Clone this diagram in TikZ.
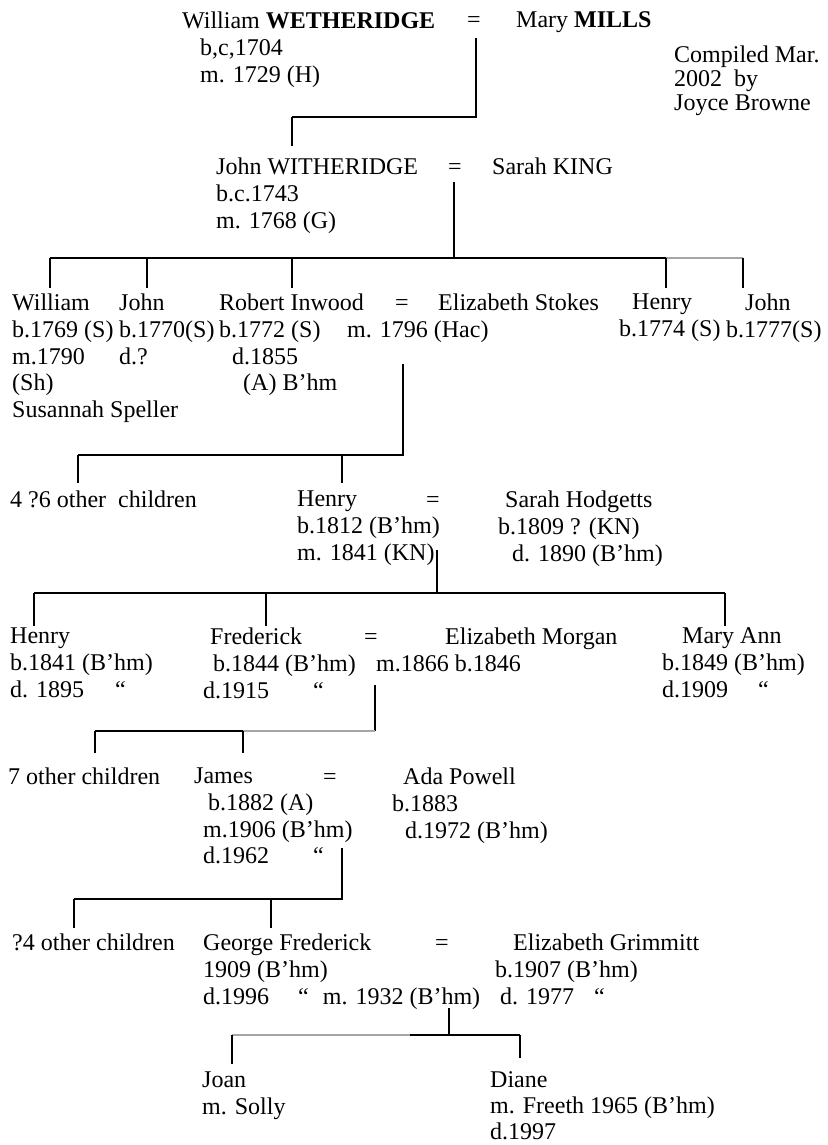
\documentclass[tikz,border=0pt]{standalone}
\usepackage{fontspec}
\setmainfont{Liberation Serif}

\tikzset{
        person/.style={anchor=north west, inner sep=0pt, align=left, yshift=16.4pt},
        wed/.style={anchor=base, inner sep=0pt},
        famline/.style={line width=1.4pt},
        faint/.style={draw=black!35}
}

\begin{document}
\begin{tikzpicture}[x=1pt, y=-1pt, font=\fontsize{24}{26.8}\selectfont]
        \useasboundingbox (0,0) rectangle (827,1145);

        % William and Mary
        \node [person] (will) at (182,28) {William \textbf{WETHERIDGE}};
        \node [person] (willinfo) at (200,54.8) {b,c,1704\\m. 1729 (H)};
        \node [wed] (eqa) at (474,28) {=};
        \node [person] (mary) at (516,28) {Mary \textbf{MILLS}};
        \node [person, font=\fontsize{24}{24}\selectfont] (note) at (674,62)
                {Compiled Mar.\\2002\ \ by\\Joyce Browne};

        % John and Sarah
        \node [person] (johnw) at (216,174) {John WITHERIDGE\\b.c.1743\\m. 1768 (G)};
        \node [wed] (eqb) at (455,174) {=};
        \node [person] (sarahk) at (492,174) {Sarah KING};

        % their children
        \node [person] (williamb) at (12,310) {William\\b.1769 (S)\\m.1790\\(Sh)\\Susannah Speller};
        \node [person] (johnb) at (119,310) {John\\b.1770(S)\\d.?};
        \node [person] (robert) at (219,310)
                {Robert Inwood\\b.1772 (S)\\\hspace*{13pt}d.1855\\\hspace*{24pt}(A) B’hm};
        \node [wed] (eqc) at (402,310) {=};
        \node [person] (elizs) at (438,310) {Elizabeth Stokes};
        \node [person] (marc) at (347,336.8) {m. 1796 (Hac)};
        \node [person] (henryb) at (619,310) {\hspace*{13pt}Henry\\b.1774 (S)};
        \node [person] (johnc) at (726,310) {\hspace*{19pt}John\\b.1777(S)};

        % Henry and Sarah
        \node [person] (otherb) at (10,507) {4 ?6 other\ \ children};
        \node [person] (henryc) at (297,507) {Henry\\b.1812 (B’hm)\\m. 1841 (KN)};
        \node [wed] (eqd) at (433,507) {=};
        \node [person] (sarahh) at (498,507)
                {\hspace*{7pt}Sarah Hodgetts\\b.1809 ? (KN)\\\hspace*{14pt}d. 1890 (B’hm)};

        % Frederick and Elizabeth
        \node [person] (henryd) at (10,644) {Henry\\b.1841 (B’hm)\\d. 1895\hspace{31pt}“};
        \node [person] (fred) at (203,644)
                {\hspace*{7pt}Frederick\\\hspace*{10pt}b.1844 (B’hm)\\d.1915\hspace{44pt}“};
        \node [wed] (eqe) at (371,644) {=};
        \node [person] (emorg) at (445,644) {Elizabeth Morgan};
        \node [person] (mare) at (376,670.8) {m.1866 b.1846};
        \node [person] (maryann) at (662,644)
                {\hspace*{20pt}Mary Ann\\b.1849 (B’hm)\\d.1909\hspace{30pt}“};

        % James and Ada
        \node [person] (otherc) at (8,784) {7 other children};
        \node [person] (james) at (194,784)
                {James\\\hspace*{14pt}b.1882 (A)\\\hspace*{9pt}m.1906 (B’hm)\\\hspace*{9pt}d.1962\hspace{44pt}“};
        \node [wed] (eqf) at (330,784) {=};
        \node [person] (ada) at (392,784)
                {\hspace*{11pt}Ada Powell\\b.1883\\\hspace*{13pt}d.1972 (B’hm)};

        % George Frederick and Elizabeth
        \node [person] (otherd) at (12,950) {?4 other children};
        \node [person] (george) at (203,950)
                {George Frederick\\1909 (B’hm)\\d.1996\hspace{29pt}“\hspace{14pt}m. 1932 (B’hm)};
        \node [wed] (eqg) at (442,950) {=};
        \node [person] (egrim) at (495,950)
                {\hspace*{18pt}Elizabeth Grimmitt\\b.1907 (B’hm)\\\hspace*{5pt}d. 1977\hspace{20pt}“};

        % their daughters
        \node [person] (joan) at (202,1088) {Joan\\m. Solly};
        \node [person, font=\fontsize{24}{26}\selectfont] (diane) at (490,1088)
                {Diane\\m. Freeth 1965 (B’hm)\\d.1997};

        % bars
        \coordinate (ka) at (292,117);
        \coordinate (kb) at (454,258);
        \coordinate (kb1) at (50,258);
        \coordinate (kb2) at (147,258);
        \coordinate (kb3) at (292,258);
        \coordinate (kb4) at (666,258);
        \coordinate (kb5) at (743,258);
        \coordinate (kc) at (403,455);
        \coordinate (kc1) at (78,455);
        \coordinate (kc2) at (342,455);
        \coordinate (kd) at (437,593);
        \coordinate (kd1) at (34,593);
        \coordinate (kd2) at (266,593);
        \coordinate (kd3) at (725,593);
        \coordinate (ke) at (375,731);
        \coordinate (ke1) at (95,731);
        \coordinate (ke2) at (243,731);
        \coordinate (kf) at (342,899);
        \coordinate (kf1) at (74,899);
        \coordinate (kf2) at (271,899);
        \coordinate (kg) at (449,1035);
        \coordinate (kg1) at (232,1035);
        \coordinate (kg2) at (520,1035);
        \coordinate (kg3) at (410,1035);

        \draw [famline] (eqa.south) ++(2,10) |- (ka);
        \draw [famline, shorten >=12pt] (ka) -- (ka |- johnw.north);

        \draw [famline] (eqb.south) ++(-1,8) -- (kb);
        \draw [famline] (kb1) -- (kb4);
        \draw [famline, faint] (kb4) -- (kb5);
        \foreach \k/\n in {kb1/williamb, kb2/johnb, kb3/robert, kb4/henryb, kb5/johnc}
                \draw [famline, shorten >=6pt] (\k) -- (\k |- \n.north);

        \draw [famline] (marc.south -| eqc) ++(1,21) -- (kc) -- (kc1);
        \foreach \k/\n in {kc1/otherb, kc2/henryc}
                \draw [famline, shorten >=8pt] (\k) -- (\k |- \n.north);

        \draw [famline] (eqd.south) ++(4,43) -- (kd);
        \draw [famline] (kd1) -- (kd3);
        \foreach \k/\n in {kd1/henryd, kd2/fred, kd3/maryann}
                \draw [famline, shorten >=2pt] (\k) -- (\k |- \n.north);

        \draw [famline] (eqe.south) ++(4,41) -- (ke);
        \draw [famline] (ke1) -- (ke2);
        \draw [famline, faint] (ke2) -- (ke);
        \foreach \k/\n in {ke1/otherc, ke2/james}
                \draw [famline, shorten >=15pt] (\k) -- (\k |- \n.north);

        \draw [famline] (eqf.south) ++(12,64) -- (kf) -- (kf1);
        \foreach \k/\n in {kf1/otherd, kf2/george}
                \draw [famline, shorten >=6pt] (\k) -- (\k |- \n.north);

        \draw [famline] (eqg.south) ++(7,58) -- (kg);
        \draw [famline, faint] (kg1) -- (kg3);
        \draw [famline] (kg3) -- (kg2);
        \draw [famline, shorten >=8pt] (kg1) -- (kg1 |- joan.north);
        \draw [famline, shorten >=14pt] (kg2) -- (kg2 |- diane.north);
\end{tikzpicture}
\end{document}
